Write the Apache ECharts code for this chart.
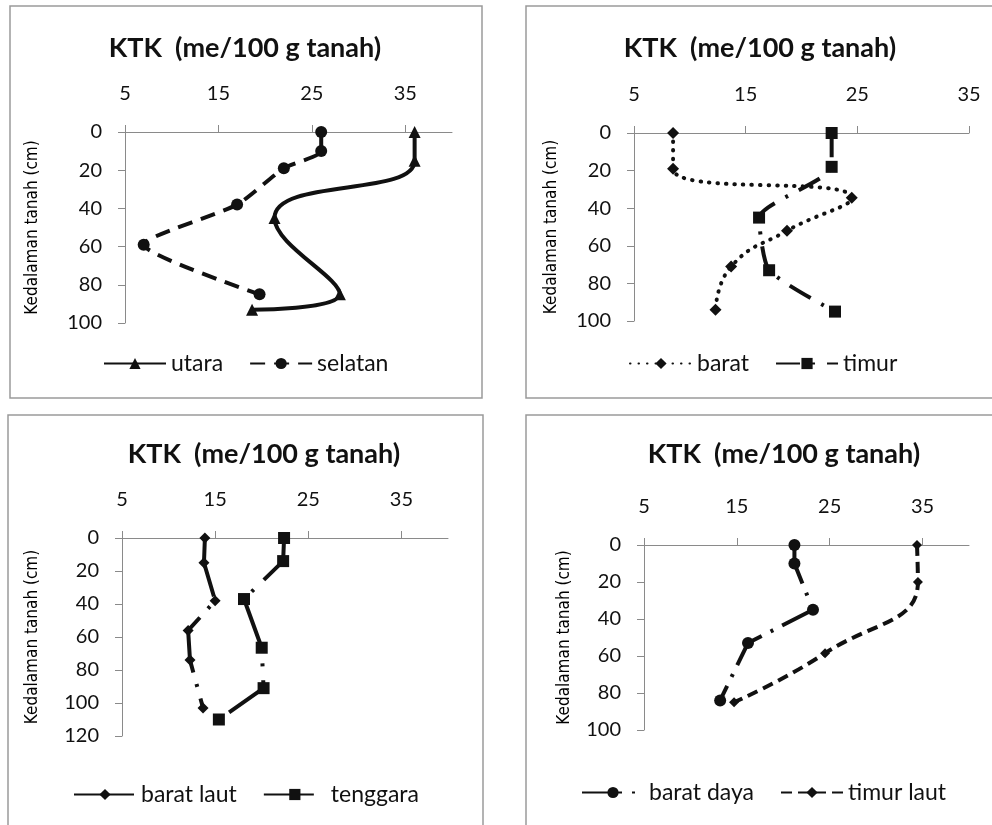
<!DOCTYPE html>
<html>
<head>
<meta charset="utf-8">
<script src="https://cdn.jsdelivr.net/npm/echarts@6/dist/echarts.min.js"></script>
<style>
  html, body { margin: 0; padding: 0; background: #fff; }
  #chart { width: 992px; height: 825px; }
</style>
</head>
<body>
<div id="chart"></div>
<script>
// KTK (me/100 g tanah) per kedalaman tanah (cm)
const xTicks = [5, 15, 25, 35]

// panel kiri atas
const utaraKtk = [36, 36, 21, 28, 18.6]
const utaraDepth = [0, 15, 45, 85, 93]
const selatanKtk = [26, 26, 22, 17, 7, 19.4]
const selatanDepth = [0, 10, 19, 38, 59, 85]
// panel kanan atas
const baratKtk = [8.5, 8.5, 24.5, 18.7, 13.7, 12.3]
const baratDepth = [0, 19, 34.5, 52, 71, 94]
const timurKtk = [22.7, 22.7, 16.2, 17.1, 23]
const timurDepth = [0, 18, 45, 73, 95]
// panel kiri bawah
const baratLautKtk = [13.9, 13.8, 15, 12.1, 12.3, 13.7]
const baratLautDepth = [0, 15, 38, 56, 74, 103]
const tenggaraKtk = [22.4, 22.3, 18.1, 20, 20.2, 15.4]
const tenggaraDepth = [0, 14, 37, 66.5, 91, 110]
// panel kanan bawah
const baratDayaKtk = [21.2, 21.2, 23.2, 16.2, 13.2]
const baratDayaDepth = [0, 10, 35, 53, 84]
const timurLautKtk = [34.4, 34.5, 24.5, 14.7]
const timurLautDepth = [0, 20, 58.5, 85]

const pairs = (xs, ys) => xs.map((x, i) => [x, ys[i]])

const FONT = 'Lato, "Open Sans", sans-serif'
const NARROW = '"Liberation Sans Narrow", "DejaVu Sans Condensed", sans-serif'
const AXIS_COLOR = '#8a8a8a'

// posisi tiap panel (grid, judul, legenda, kotak)
const panels = [
  { grid: { left: 125, top: 132, width: 327, height: 191 }, xMax: 40, yMax: 100, nameGap: 84,
    titleX: 240, titleY: 30, legendX: 98, legendY: 347, box: [10, 6, 472, 392] },
  { grid: { left: 634, top: 133, width: 335, height: 188 }, xMax: 35, yMax: 100, nameGap: 74,
    titleX: 755, titleY: 30, legendX: 624, legendY: 347, box: [526, 6, 480, 392] },
  { grid: { left: 122, top: 538, width: 326, height: 198 }, xMax: 40, yMax: 120, nameGap: 81,
    titleX: 259, titleY: 436, legendX: 68, legendY: 778, box: [8, 415, 475, 430] },
  { grid: { left: 644, top: 545, width: 325, height: 185 }, xMax: 40, yMax: 100, nameGap: 71,
    titleX: 779, titleY: 436, legendX: 576, legendY: 776, box: [526, 415, 480, 430] }
]

const seriesDefs = [
  { name: 'utara', panel: 0, data: pairs(utaraKtk, utaraDepth), symbol: 'triangle', size: 12,
    line: 'solid', smooth: 0.5 },
  { name: 'selatan', panel: 0, data: pairs(selatanKtk, selatanDepth), symbol: 'circle', size: 12,
    line: [15, 9], smooth: 0.2 },
  { name: 'barat', panel: 1, data: pairs(baratKtk, baratDepth), symbol: 'diamond', size: 12,
    line: [0.5, 8], cap: 'round', smooth: 0.5 },
  { name: 'timur', panel: 1, data: pairs(timurKtk, timurDepth), symbol: 'rect', size: 12,
    line: [24, 12, 3, 12], smooth: 0.2 },
  { name: 'barat laut', panel: 2, data: pairs(baratLautKtk, baratLautDepth), symbol: 'diamond', size: 11,
    line: [60, 12, 3, 12], smooth: 0 },
  { name: 'tenggara', panel: 2, data: pairs(tenggaraKtk, tenggaraDepth), symbol: 'rect', size: 12,
    line: [50, 14, 3, 14], smooth: 0 },
  { name: 'barat daya', panel: 3, data: pairs(baratDayaKtk, baratDayaDepth), symbol: 'circle', size: 12,
    line: [40, 10, 3, 10], smooth: 0 },
  { name: 'timur laut', panel: 3, data: pairs(timurLautKtk, timurLautDepth), symbol: 'diamond', size: 10,
    line: [11, 6], smooth: 0.5 }
]

const chart = echarts.init(document.getElementById('chart'))

const option = {
  backgroundColor: '#fff',
  animation: false,
  graphic: panels.map(p => ({
    type: 'rect',
    shape: { x: p.box[0], y: p.box[1], width: p.box[2], height: p.box[3] },
    style: { fill: 'none', stroke: '#9a9a9a', lineWidth: 1.5 },
    silent: true,
    z: -1
  })),
  title: panels.map(p => ({
    text: 'KTK  (me/100 g tanah)',
    left: p.titleX,
    top: p.titleY,
    textAlign: 'center',
    textStyle: { fontFamily: FONT, fontSize: 27, fontWeight: 'bold', color: '#111' }
  })),
  legend: panels.map((p, i) => ({
    data: seriesDefs.filter(s => s.panel === i).map(s => s.name),
    left: p.legendX,
    top: p.legendY,
    itemWidth: 62,
    itemHeight: 14,
    itemGap: 26,
    textStyle: { fontFamily: FONT, fontSize: 23, color: '#111' }
  })),
  grid: panels.map(p => ({ ...p.grid, containLabel: false })),
  xAxis: panels.map((p, i) => ({
    type: 'value',
    gridIndex: i,
    position: 'top',
    min: 5,
    max: p.xMax,
    interval: 10,
    axisLine: { show: true, lineStyle: { color: AXIS_COLOR, width: 1 } },
    axisTick: { show: true, length: 7, customValues: xTicks, lineStyle: { color: AXIS_COLOR } },
    axisLabel: { customValues: xTicks, margin: 28, fontFamily: FONT, fontSize: 20, color: '#111' },
    splitLine: { show: false }
  })),
  yAxis: panels.map((p, i) => ({
    type: 'value',
    gridIndex: i,
    inverse: true,
    min: 0,
    max: p.yMax,
    interval: 20,
    name: 'Kedalaman tanah (cm)',
    nameLocation: 'middle',
    nameRotate: 90,
    nameGap: p.nameGap,
    nameTextStyle: { fontFamily: NARROW, fontSize: 17, color: '#000' },
    axisLine: { show: true, lineStyle: { color: AXIS_COLOR, width: 1 } },
    axisTick: { show: true, length: 7, lineStyle: { color: AXIS_COLOR } },
    axisLabel: { margin: 23, fontFamily: FONT, fontSize: 20, color: '#111' },
    splitLine: { show: false }
  })),
  series: seriesDefs.map(s => ({
    name: s.name,
    type: 'line',
    xAxisIndex: s.panel,
    yAxisIndex: s.panel,
    data: s.data,
    smooth: s.smooth,
    symbol: s.symbol,
    symbolSize: s.size,
    itemStyle: { color: '#111' },
    lineStyle: { color: '#111', width: 4, type: s.line, cap: s.cap || 'butt' }
  }))
}

chart.setOption(option)
</script>
</body>
</html>
